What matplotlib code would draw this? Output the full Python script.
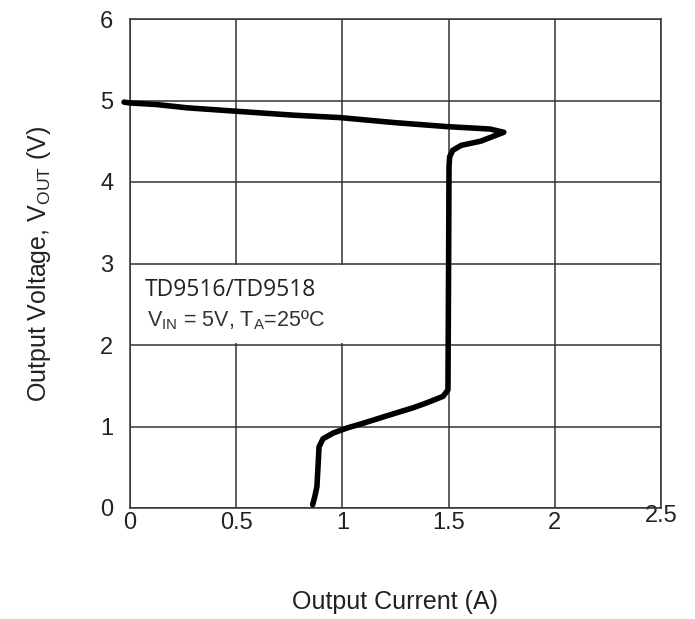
import numpy as np
import matplotlib
matplotlib.use('Agg')
import matplotlib.pyplot as plt
from matplotlib.patches import Rectangle
from matplotlib.transforms import ScaledTranslation

plt.rcParams['font.family'] = ['Liberation Sans', 'DejaVu Sans']
plt.rcParams['mathtext.fontset'] = 'custom'
plt.rcParams['mathtext.rm'] = 'Liberation Sans'
plt.rcParams['mathtext.it'] = 'Liberation Sans'

# Corba V-I (corrent en A, tensió en V), llegida de la figura
corrent = [-0.028, 0.0, 0.127, 0.27, 0.49, 0.77, 0.99, 1.24, 1.49, 1.695, 1.76,
           1.65, 1.56, 1.52, 1.505, 1.502, 1.50, 1.497, 1.474, 1.397, 1.333,
           1.208, 1.098, 1.02, 0.957, 0.909, 0.89, 0.886, 0.88, 0.87, 0.86]
tensio = [4.98, 4.97, 4.95, 4.91, 4.87, 4.82, 4.79, 4.73, 4.68, 4.65, 4.61,
          4.50, 4.45, 4.39, 4.31, 4.19, 3.0, 1.45, 1.37, 1.29, 1.23,
          1.13, 1.04, 0.98, 0.92, 0.85, 0.75, 0.55, 0.26, 0.14, 0.04]

xticks = [0, 0.5, 1, 1.5, 2, 2.5]
xtick_labels = ['0', '0.5', '1', '1.5', '2', '2.5']
yticks = [0, 1, 2, 3, 4, 5, 6]

fig = plt.figure(figsize=(6.95, 6.19), dpi=100)
ax = fig.add_axes([130/695, 1 - 508/619, 531/695, 489/619])

ax.set_xlim(0, 2.5)
ax.set_ylim(0, 6)
ax.set_xticks(xticks)
ax.set_xticklabels(xtick_labels)
ax.set_yticks(yticks)
ax.tick_params(length=0, labelsize=17, colors='#222222')
ax.tick_params(axis='y', pad=12)
ax.tick_params(axis='x', pad=3)
ax.set_axisbelow(True)
ax.grid(True, color='#333333', linewidth=1.1)
for s in ax.spines.values():
    s.set_color('#333333')
    s.set_linewidth(1.1)

# el "2.5" surt una mica més amunt
lab = ax.get_xticklabels()[-1]
lab.set_transform(lab.get_transform() + ScaledTranslation(0, 5/72, fig.dpi_scale_trans))

# caixa blanca de la llegenda
ax.add_patch(Rectangle((0.005, 2.02), 1.465, 0.96, facecolor='white', edgecolor='none', zorder=1))

ax.plot(corrent, tensio, color='black', linewidth=4, solid_capstyle='round',
        solid_joinstyle='round', clip_on=False, zorder=3)

ax.text(0.07, 2.67, 'TD9516/TD9518', fontsize=16.5, family='Open Sans', color='#222222',
        va='center', ha='left', zorder=4)
ax.text(0.08, 2.31, r'V$_{\mathrm{IN}}$ = 5V, T$_{\mathrm{A}}$=25ºC', fontsize=15.5,
        color='#333333', va='center', ha='left', zorder=4)

ax.set_xlabel('Output Current (A)', fontsize=18, color='#222222', labelpad=40)
ax.set_ylabel(r'Output Voltage, V$_{\mathrm{OUT}}$ (V)', fontsize=18, color='#222222', labelpad=34)

fig.savefig('out.png', dpi=100)
